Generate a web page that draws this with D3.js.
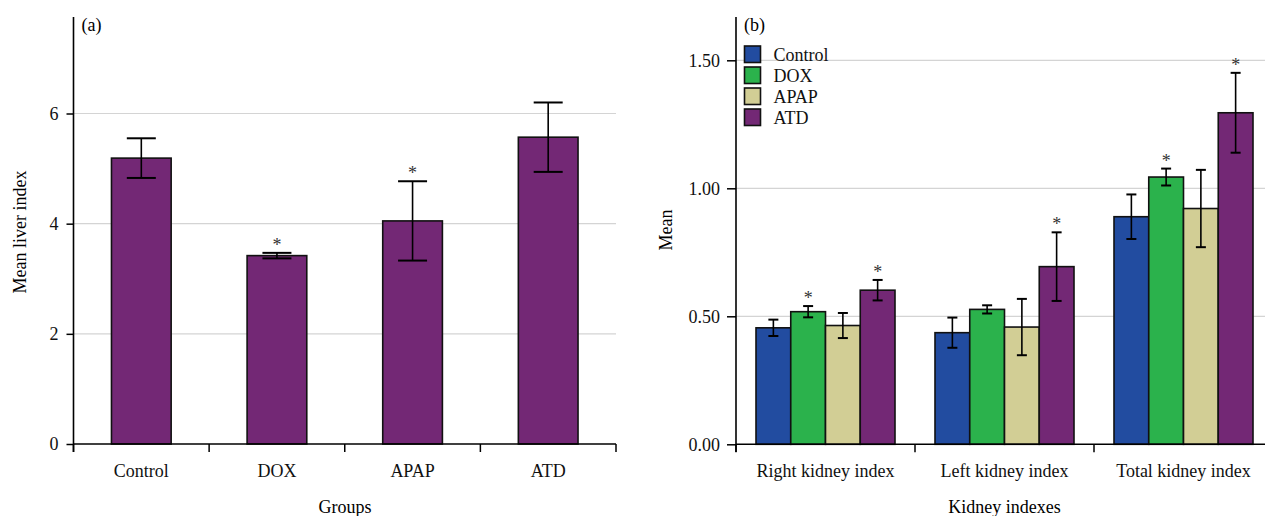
<!DOCTYPE html>
<html>
<head>
<meta charset="utf-8">
<script src="https://cdn.jsdelivr.net/npm/d3@7"></script>
<style>
  body { margin: 0; background: #fff; }
  svg { display: block; font-family: "Liberation Serif", "Times New Roman", serif; }
</style>
</head>
<body>
<svg id="chart" width="1265" height="516"></svg>
<script>
// panel (a): liver
const groups = ['Control', 'DOX', 'APAP', 'ATD'];
const liverMean = [5.19, 3.42, 4.05, 5.57];
const liverErr = [0.36, 0.05, 0.72, 0.63];
const liverSig = [false, true, true, false];
const liverTicks = [0, 2, 4, 6];

// panel (b): kidney
const kidneyCats = ['Right kidney index', 'Left kidney index', 'Total kidney index'];
const controlMean = [0.455, 0.436, 0.889];
const controlErr = [0.032, 0.059, 0.087];
const doxMean = [0.518, 0.527, 1.044];
const doxErr = [0.022, 0.016, 0.033];
const apapMean = [0.464, 0.458, 0.921];
const apapErr = [0.049, 0.11, 0.151];
const atdMean = [0.602, 0.694, 1.295];
const atdErr = [0.04, 0.134, 0.156];
const controlSig = [false, false, false];
const doxSig = [true, false, true];
const apapSig = [false, false, false];
const atdSig = [true, true, true];
const kidneyTicks = [0, 0.5, 1.0, 1.5];

const colors = { Control: '#224ca0', DOX: '#2bb24c', APAP: '#d2ce95', ATD: '#732875' };
const gridColor = '#d4d4d4';
const FONT = 18;

const svg = d3.select('#chart');

function yAxis(g, y, x0, xEnd, ticks, fmt, o) {
  g.selectAll('.grid').data(ticks.filter(t => t > 0)).enter()
    .append('line')
    .attr('x1', x0).attr('x2', xEnd)
    .attr('y1', d => y(d)).attr('y2', d => y(d))
    .attr('stroke', gridColor).attr('stroke-width', 1.2);

  const ax = g.append('g')
    .attr('transform', `translate(${x0},0)`)
    .call(d3.axisLeft(y).tickValues(ticks).tickSize(o.tick).tickSizeOuter(0).tickFormat(fmt));
  ax.select('.domain').remove();
  ax.selectAll('.tick line').attr('stroke', '#000').attr('stroke-width', 1.5);
  ax.selectAll('.tick text')
    .attr('x', -o.gap)
    .attr('font-size', FONT)
    .attr('font-family', '"Liberation Serif", serif')
    .attr('fill', '#111');
}

function xAxis(g, x, yBase, xEnd) {
  g.append('line')
    .attr('x1', x.range()[0]).attr('x2', xEnd)
    .attr('y1', yBase).attr('y2', yBase)
    .attr('stroke', '#000').attr('stroke-width', 1.6);
  const edges = x.domain().map(d => x(d)).concat([x.range()[1]]);
  g.selectAll('.xtick').data(edges).enter()
    .append('line')
    .attr('x1', d => d).attr('x2', d => d)
    .attr('y1', yBase).attr('y2', yBase + 8)
    .attr('stroke', '#000').attr('stroke-width', 1.5);
  g.selectAll('.xlab').data(x.domain()).enter()
    .append('text')
    .attr('x', d => x(d) + x.bandwidth() / 2)
    .attr('y', 471)
    .attr('dy', '0.35em')
    .attr('text-anchor', 'middle')
    .attr('font-size', FONT)
    .attr('fill', '#111')
    .text(d => d);
}

function errBar(g, cx, y, mean, err, cap) {
  g.append('line')
    .attr('x1', cx).attr('x2', cx)
    .attr('y1', y(mean + err)).attr('y2', y(mean - err))
    .attr('stroke', '#000').attr('stroke-width', 1.6);
  [mean + err, mean - err].forEach(v => {
    g.append('line')
      .attr('x1', cx - cap / 2).attr('x2', cx + cap / 2)
      .attr('y1', y(v)).attr('y2', y(v))
      .attr('stroke', '#000').attr('stroke-width', 2);
  });
}

function star(g, cx, yTop) {
  g.append('text')
    .attr('x', cx).attr('y', yTop - 2)
    .attr('text-anchor', 'middle')
    .attr('font-size', FONT)
    .attr('fill', '#333')
    .text('*');
}

// ---------- panel (a) ----------
{
  const g = svg.append('g');
  const yA = d3.scaleLinear().domain([0, 6]).range([444, 113.5]);
  const xA = d3.scaleBand().domain(groups).range([73.5, 616]).padding(0);

  yAxis(g, yA, 73.5, 616, liverTicks, d3.format('d'), { tick: 7, gap: 15 });

  const bw = xA.bandwidth() * 0.44;
  groups.forEach((grp, i) => {
    const cx = xA(grp) + xA.bandwidth() / 2;
    g.append('rect')
      .attr('x', cx - bw / 2).attr('width', bw)
      .attr('y', yA(liverMean[i])).attr('height', yA(0) - yA(liverMean[i]))
      .attr('fill', colors.ATD)
      .attr('stroke', '#111').attr('stroke-width', 1.6);
    errBar(g, cx, yA, liverMean[i], liverErr[i], 29);
    if (liverSig[i]) star(g, cx, yA(liverMean[i] + liverErr[i]));
  });

  xAxis(g, xA, 444, 616);
  g.append('line')
    .attr('x1', 73.5).attr('x2', 73.5).attr('y1', 17).attr('y2', 452)
    .attr('stroke', '#000').attr('stroke-width', 1.6);

  g.append('text').attr('x', 81.5).attr('y', 25).attr('dy', '0.35em').attr('font-size', FONT)
    .text('(a)');
  g.append('text').attr('x', 345).attr('y', 507).attr('dy', '0.35em').attr('font-size', FONT)
    .attr('text-anchor', 'middle').text('Groups');
  g.append('text')
    .attr('transform', 'translate(20,232) rotate(-90)')
    .attr('dy', '0.35em')
    .attr('font-size', FONT).attr('text-anchor', 'middle')
    .text('Mean liver index');
}

// ---------- panel (b) ----------
{
  const g = svg.append('g');
  const series = [
    { name: 'Control', mean: controlMean, err: controlErr, sig: controlSig },
    { name: 'DOX', mean: doxMean, err: doxErr, sig: doxSig },
    { name: 'APAP', mean: apapMean, err: apapErr, sig: apapSig },
    { name: 'ATD', mean: atdMean, err: atdErr, sig: atdSig },
  ];
  const yB = d3.scaleLinear().domain([0, 1.5]).range([444.3, 60.3]);
  const x0 = d3.scaleBand().domain(kidneyCats).range([736, 1273]).padding(0);
  const pad = 20;
  const x1 = d3.scaleBand().domain(series.map(s => s.name))
    .range([pad, x0.bandwidth() - pad]).padding(0);

  yAxis(g, yB, 736, 1265, kidneyTicks, d3.format('.2f'), { tick: 9, gap: 16 });

  kidneyCats.forEach((cat, ci) => {
    series.forEach(s => {
      const x = x0(cat) + x1(s.name);
      const v = s.mean[ci];
      g.append('rect')
        .attr('x', x).attr('width', x1.bandwidth())
        .attr('y', yB(v)).attr('height', yB(0) - yB(v))
        .attr('fill', colors[s.name])
        .attr('stroke', '#111').attr('stroke-width', 1.6);
    });
    series.forEach(s => {
      const cx = x0(cat) + x1(s.name) + x1.bandwidth() / 2;
      errBar(g, cx, yB, s.mean[ci], s.err[ci], 10);
      if (s.sig[ci]) star(g, cx, yB(s.mean[ci] + s.err[ci]));
    });
  });

  xAxis(g, x0, 444.3, 1265);
  g.append('line')
    .attr('x1', 736).attr('x2', 736).attr('y1', 17).attr('y2', 452)
    .attr('stroke', '#000').attr('stroke-width', 1.6);

  // legend
  const leg = g.append('g').attr('transform', 'translate(744.5,46)');
  series.forEach((s, i) => {
    const row = leg.append('g').attr('transform', `translate(0,${i * 21})`);
    row.append('rect').attr('width', 16).attr('height', 16.5)
      .attr('fill', colors[s.name]).attr('stroke', '#111').attr('stroke-width', 1.6);
    row.append('text').attr('x', 29).attr('y', 8.5).attr('dy', '0.35em')
      .attr('font-size', FONT).attr('fill', '#111').text(s.name);
  });

  g.append('text').attr('x', 744).attr('y', 25).attr('dy', '0.35em').attr('font-size', FONT)
    .text('(b)');
  g.append('text').attr('x', 1004.5).attr('y', 507).attr('dy', '0.35em').attr('font-size', FONT)
    .attr('text-anchor', 'middle').text('Kidney indexes');
  g.append('text')
    .attr('transform', 'translate(666,230) rotate(-90)')
    .attr('dy', '0.35em')
    .attr('font-size', FONT).attr('text-anchor', 'middle')
    .text('Mean');
}
</script>
</body>
</html>
